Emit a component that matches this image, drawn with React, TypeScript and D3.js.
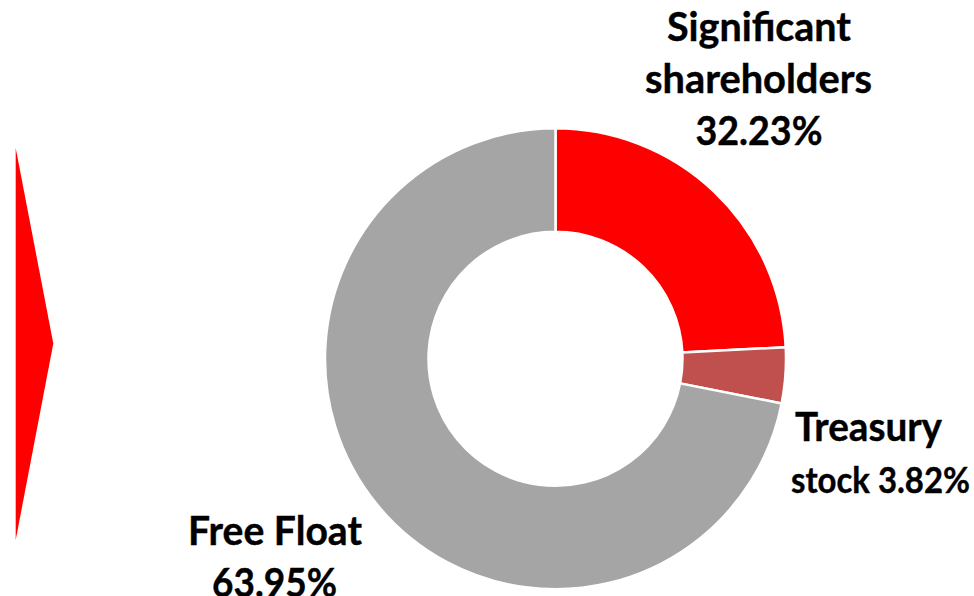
import React from "react";
import * as d3 from "d3";

const categories = ["Significant shareholders", "Treasury stock", "Free Float"];
const sliceValues = [24.2, 3.9, 71.9];
const labelLines = [
  ["Significant", "shareholders", "32.23%"],
  ["Treasury", "stock 3.82%"],
  ["Free Float", "63.95%"],
];
const colors = ["#FF0000", "#C0504D", "#A5A5A5"];

const W = 974;
const H = 596;
const cx = 555.5;
const cy = 358.8;
const outerR = 230.5;
const innerR = 127;

const labelPos = [
  { y: 41, dy: 52, anchors: [759, 758.5, 759], widths: [184, 227, 127], sizes: [40, 40, 40] },
  { y: 441, dy: 52, anchors: [868.5, 880.5], widths: [147, 179], sizes: [40, 37] },
  { y: 545, dy: 52, anchors: [275, 274.5], widths: [174, 125], sizes: [40, 40] },
];

export default function App() {
  const data = categories.map((c, i) => ({ name: c, value: sliceValues[i] }));
  const pie = d3
    .pie<{ name: string; value: number }>()
    .sort(null)
    .value((d) => d.value)
    .startAngle(0)
    .endAngle(2 * Math.PI);
  const arcs = pie(data);
  const arc = d3
    .arc<d3.PieArcDatum<{ name: string; value: number }>>()
    .innerRadius(innerR)
    .outerRadius(outerR);

  const arrow = d3.line()([
    [15.7, 148],
    [53.3, 343.5],
    [15.7, 540],
  ]) + "Z";

  return (
    <svg
      width={W}
      height={H}
      style={{ position: "absolute", left: 0, top: 0, background: "#fff" }}
    >
      <path d={arrow} fill="#FF0000" />
      <g transform={`translate(${cx},${cy})`}>
        {arcs.map((a, i) => (
          <path
            key={i}
            d={arc(a) || ""}
            fill={colors[i]}
            stroke="#FFFFFF"
            strokeWidth={2.5}
          />
        ))}
      </g>
      {labelLines.map((lines, i) => (
        <g key={i}>
          {lines.map((t, j) => (
            <text
              key={j}
              x={labelPos[i].anchors[j]}
              y={labelPos[i].y + j * labelPos[i].dy}
              textAnchor="middle"
              fontFamily="Lato, 'Open Sans', sans-serif"
              fontWeight={700}
              fontSize={labelPos[i].sizes[j]}
              fill="#000"
              stroke="#000"
              strokeWidth={0.4}
              textLength={labelPos[i].widths[j]}
              lengthAdjust="spacingAndGlyphs"
            >
              {t}
            </text>
          ))}
        </g>
      ))}
    </svg>
  );
}
